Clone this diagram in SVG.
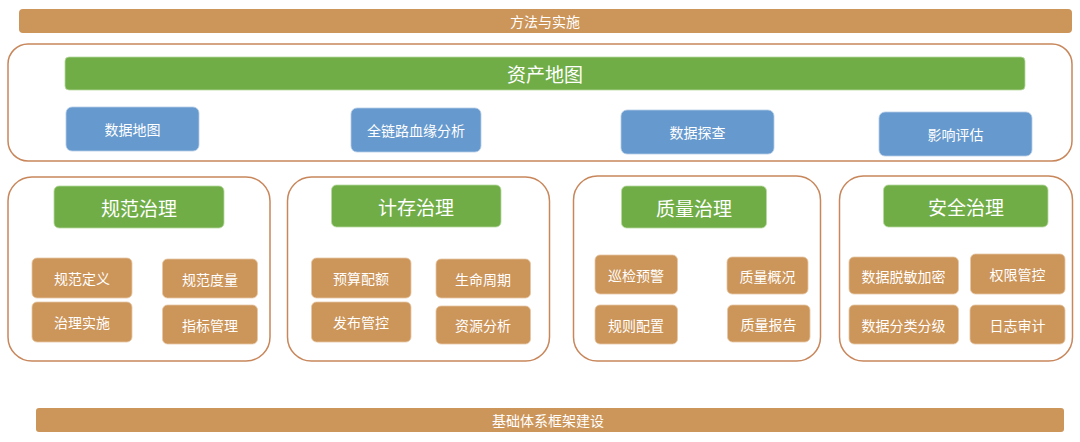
<svg xmlns="http://www.w3.org/2000/svg" width="1080" height="442" viewBox="0 0 1080 442">
<style>
.bg{fill:#ffffff}
.frame{fill:#ffffff;stroke:#c8865b;stroke-width:1.5}
.bar{fill:#cc9559}
.org{fill:#cc9559;stroke:#e6c7a6;stroke-width:0.8}
.grn{fill:#70ad47;stroke:#b7d9a0;stroke-width:0.8}
.blu{fill:#6699cd;stroke:#b4cbe6;stroke-width:0.8}
text{font-family:"Noto Sans CJK SC","Noto Sans",sans-serif;fill:#ffffff;text-anchor:middle;dominant-baseline:central}
.t14{font-size:14px}
.t19{font-size:19px}
</style>
<rect class="bg" x="0" y="0" width="1080" height="442"/>
<g id="top-bar">
<rect class="bar" x="19" y="9" width="1053" height="24" rx="4"/>
<text class="t14" x="545" y="21">方法与实施</text>
</g>
<g id="asset-map">
<rect class="frame" x="8" y="44" width="1064" height="117" rx="20"/>
<rect class="grn" x="65" y="57" width="960" height="33" rx="4"/>
<text class="t19" x="545" y="73.5">资产地图</text>
</g>
<g id="data-map"><rect class="blu" x="66" y="107" width="133" height="44" rx="6"/><text class="t14" x="132.5" y="129">数据地图</text></g>
<g id="lineage"><rect class="blu" x="351" y="108" width="130" height="44" rx="6"/><text class="t14" x="416" y="130">全链路血缘分析</text></g>
<g id="explore"><rect class="blu" x="621" y="110" width="153" height="44" rx="6"/><text class="t14" x="697.5" y="132">数据探查</text></g>
<g id="impact"><rect class="blu" x="879" y="112" width="153" height="44" rx="6"/><text class="t14" x="955.5" y="134">影响评估</text></g>

<g id="panel-norm">
<rect class="frame" x="8" y="177" width="262" height="184" rx="24"/>
<rect class="grn" x="54" y="186" width="170" height="42" rx="5"/>
<text class="t19" x="139" y="207">规范治理</text>
</g>
<g id="norm-def"><rect class="org" x="32" y="258" width="100" height="40" rx="5"/><text class="t14" x="82" y="278">规范定义</text></g>
<g id="norm-impl"><rect class="org" x="32" y="302" width="100" height="40" rx="5"/><text class="t14" x="82" y="322">治理实施</text></g>
<g id="norm-measure"><rect class="org" x="162.5" y="259" width="95" height="39" rx="5"/><text class="t14" x="210" y="278.5">规范度量</text></g>
<g id="norm-metric"><rect class="org" x="162.5" y="305" width="95" height="39" rx="5"/><text class="t14" x="210" y="324.5">指标管理</text></g>

<g id="panel-cost">
<rect class="frame" x="287.5" y="177" width="262" height="184" rx="24"/>
<rect class="grn" x="331.5" y="185" width="169.5" height="42" rx="5"/>
<text class="t19" x="416" y="206">计存治理</text>
</g>
<g id="cost-budget"><rect class="org" x="311.5" y="258" width="99.5" height="40" rx="5"/><text class="t14" x="361" y="278">预算配额</text></g>
<g id="cost-release"><rect class="org" x="311.5" y="302" width="99.5" height="40" rx="5"/><text class="t14" x="361" y="322">发布管控</text></g>
<g id="cost-life"><rect class="org" x="436" y="259" width="94.5" height="39" rx="5"/><text class="t14" x="483" y="278.5">生命周期</text></g>
<g id="cost-res"><rect class="org" x="436" y="306" width="94.5" height="38" rx="5"/><text class="t14" x="483" y="325">资源分析</text></g>

<g id="panel-quality">
<rect class="frame" x="573.5" y="176" width="247" height="185" rx="24"/>
<rect class="grn" x="621.5" y="186" width="145" height="42" rx="5"/>
<text class="t19" x="694" y="207">质量治理</text>
</g>
<g id="q-patrol"><rect class="org" x="595" y="255" width="82.5" height="39" rx="5"/><text class="t14" x="636" y="274.5">巡检预警</text></g>
<g id="q-rule"><rect class="org" x="595" y="305" width="82.5" height="39" rx="5"/><text class="t14" x="636" y="324.5">规则配置</text></g>
<g id="q-overview"><rect class="org" x="727" y="257" width="81" height="37" rx="5"/><text class="t14" x="767.5" y="275.5">质量概况</text></g>
<g id="q-report"><rect class="org" x="727.5" y="305" width="82.5" height="37" rx="5"/><text class="t14" x="768.5" y="323.5">质量报告</text></g>

<g id="panel-security">
<rect class="frame" x="839.5" y="176" width="233" height="185" rx="24"/>
<rect class="grn" x="883.5" y="185" width="164.5" height="42" rx="5"/>
<text class="t19" x="966" y="206">安全治理</text>
</g>
<g id="s-mask"><rect class="org" x="849" y="257" width="109.5" height="37" rx="5"/><text class="t14" x="903.5" y="275.5">数据脱敏加密</text></g>
<g id="s-classify"><rect class="org" x="849" y="305" width="109.5" height="39" rx="5"/><text class="t14" x="903.5" y="324.5">数据分类分级</text></g>
<g id="s-perm"><rect class="org" x="970.5" y="254" width="94.5" height="40" rx="5"/><text class="t14" x="1017.5" y="274">权限管控</text></g>
<g id="s-audit"><rect class="org" x="970" y="305" width="95" height="39" rx="5"/><text class="t14" x="1017.5" y="324.5">日志审计</text></g>

<g id="bottom-bar">
<rect class="bar" x="36" y="408" width="1028" height="24" rx="3"/>
<text class="t14" x="548" y="420">基础体系框架建设</text>
</g>
<g id="connectors"></g>
</svg>
